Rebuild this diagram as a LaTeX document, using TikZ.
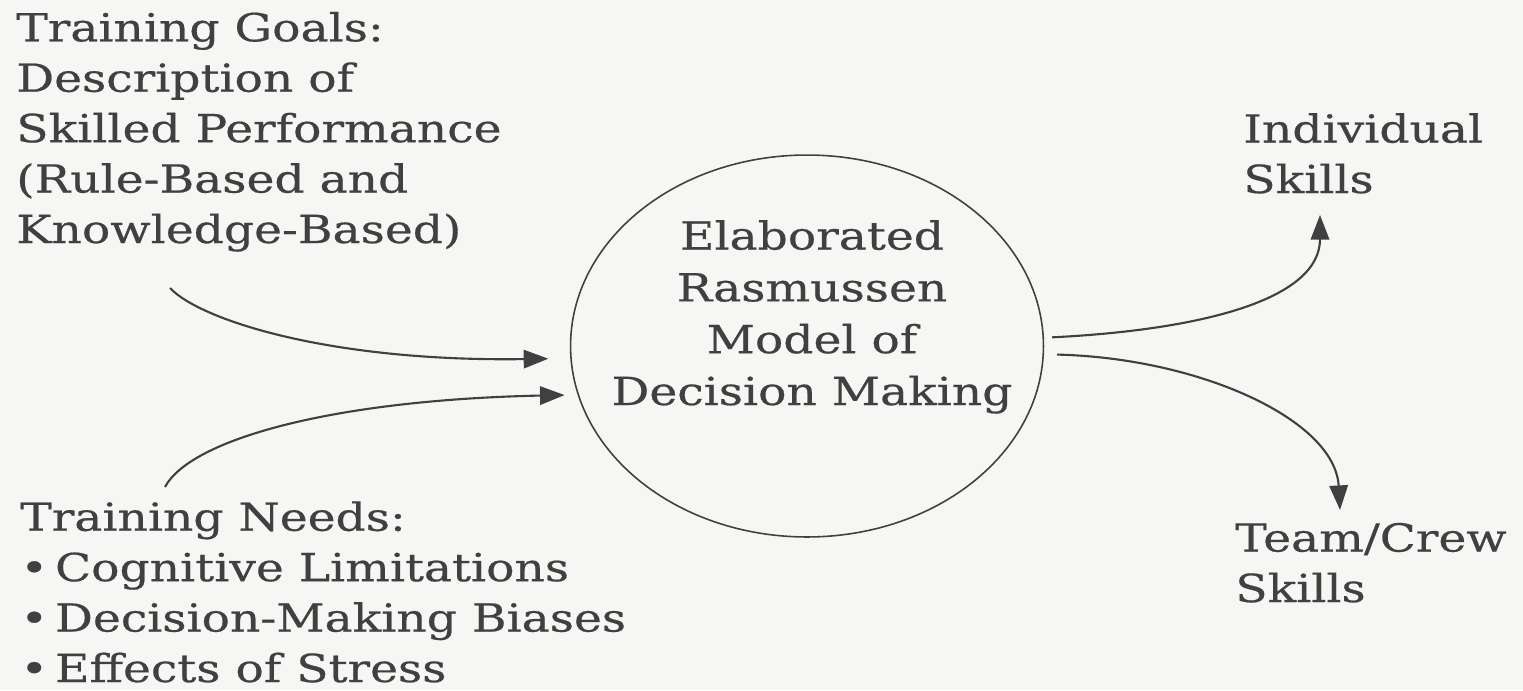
\documentclass[tikz,border=0pt]{standalone}
\usepackage{fontspec}
\setmainfont{DejaVu Serif}[FakeStretch=1.22,FakeBold=0.5]
\usetikzlibrary{arrows.meta,shapes.geometric}
\definecolor{ink}{HTML}{404040}
\definecolor{paper}{HTML}{F6F6F4}
\newcommand{\bul}{\textbullet\hspace{0.18em}}
\begin{document}
\begin{tikzpicture}[x=0.02cm,y=-0.02cm,
  lbl/.style={font=\fontsize{22}{28.7}\selectfont, text=ink, inner sep=0pt, align=left, anchor=base west},
  mlbl/.style={font=\fontsize{22}{29.5}\selectfont, text=ink, inner sep=0pt, align=center, anchor=base},
  conn/.style={draw=ink, line width=1.2pt, -{Triangle[length=14pt,width=10.5pt]}},
  oval/.style={ellipse, draw=ink, line width=0.9pt, minimum width=9.46cm, minimum height=7.64cm, inner sep=0pt}]
\fill[paper] (0,0) rectangle (1523,690);
\useasboundingbox (0,0) rectangle (1523,690);

\node[lbl] (goals) at (16,243) {Training Goals:\\Description of\\Skilled Performance\\(Rule-Based and\\Knowledge-Based)};
\node[lbl] (needs) at (20,682) {Training Needs:\\\bul Cognitive Limitations\\\bul Decision-Making Biases\\\bul Effects of Stress};

\node[oval] (model) at (807,346) {};
\node[mlbl] (mtext) at (812,405) {Elaborated\\Rasmussen\\Model of\\Decision Making};

\node[lbl] (indiv) at (1243,193) {Individual\\Skills};
\node[lbl] (team) at (1235,602) {Team/Crew\\Skills};

\coordinate (s1) at (170,288);
\coordinate (s2) at (165,487);
\coordinate (t3) at (1320,215);
\coordinate (t4) at (1340,510);

\draw[conn, shorten >=0.44cm] (s1) .. controls (200,320) and (330,362) .. (model.183.4);
\draw[conn, shorten >=0.26cm] (s2) .. controls (190,440) and (330,400) .. (model.192.6);
\draw[conn, shorten <=0.16cm] (model.2.2) .. controls (1200,330) and (1320,300) .. (t3);
\draw[conn, shorten <=0.26cm] (model.358.1) .. controls (1200,358) and (1335,420) .. (t4);
\end{tikzpicture}
\end{document}
